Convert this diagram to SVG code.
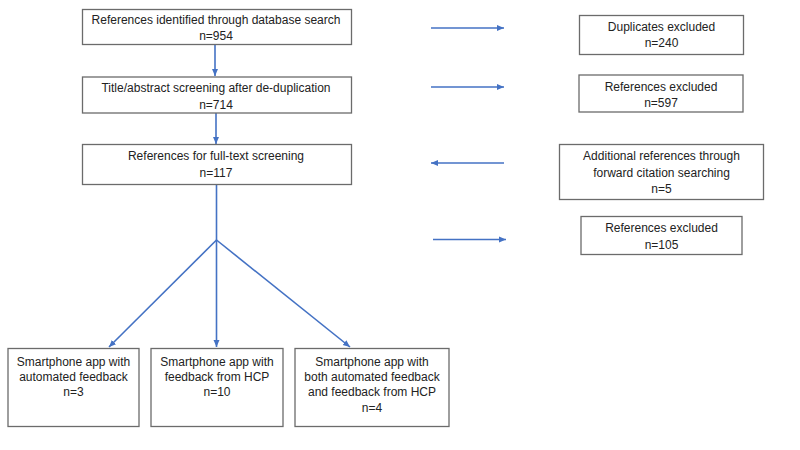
<svg xmlns="http://www.w3.org/2000/svg" width="800" height="450" viewBox="0 0 800 450">
<style>
.box{fill:#fff;stroke:#6b6b6b;stroke-width:1.3}
.t{font-family:"Liberation Sans",Arial,sans-serif;font-size:12px;fill:#222;text-anchor:middle}
.c{stroke:#4472C4;stroke-width:1.6;fill:none}
</style>
<defs>
<marker id="ah" markerUnits="userSpaceOnUse" markerWidth="8" markerHeight="8" viewBox="0 0 8 8" refX="7" refY="4" orient="auto">
<path d="M0,1 L7,4 L0,7 Z" fill="#4472C4"/>
</marker>
</defs>
<rect width="800" height="450" fill="#fff"/>
<g id="connectors">
<line class="c" x1="215" y1="44" x2="215" y2="76" marker-end="url(#ah)"/>
<line class="c" x1="216" y1="113" x2="216" y2="144" marker-end="url(#ah)"/>
<line class="c" x1="216.5" y1="185" x2="216.5" y2="240"/>
<line class="c" x1="216.5" y1="240" x2="109" y2="347" marker-end="url(#ah)"/>
<line class="c" x1="216.5" y1="240" x2="216.5" y2="347" marker-end="url(#ah)"/>
<line class="c" x1="216.5" y1="240" x2="350" y2="347" marker-end="url(#ah)"/>
<line class="c" x1="431" y1="28" x2="504" y2="28" marker-end="url(#ah)"/>
<line class="c" x1="431" y1="87" x2="504" y2="87" marker-end="url(#ah)"/>
<line class="c" x1="504" y1="163" x2="431" y2="163" marker-end="url(#ah)"/>
<line class="c" x1="433" y1="239.5" x2="506" y2="239.5" marker-end="url(#ah)"/>
</g>
<g id="n1"><rect class="box" x="82.5" y="9.5" width="269" height="35"/>
<text class="t" x="216" y="24">References  identified through database search</text>
<text class="t" x="216" y="40">n=954</text></g>
<g id="n2"><rect class="box" x="82.5" y="77" width="269" height="36"/>
<text class="t" x="216" y="92">Title/abstract screening after de-duplication</text>
<text class="t" x="216" y="109">n=714</text></g>
<g id="n3"><rect class="box" x="82.5" y="144.5" width="269" height="40"/>
<text class="t" x="216" y="160">References  for full-text screening</text>
<text class="t" x="216" y="177">n=117</text></g>
<g id="d1"><rect class="box" x="579.5" y="15.5" width="164" height="39"/>
<text class="t" x="661.5" y="31">Duplicates excluded</text>
<text class="t" x="661.5" y="47">n=240</text></g>
<g id="d2"><rect class="box" x="579" y="75" width="164" height="37"/>
<text class="t" x="661" y="91">References  excluded</text>
<text class="t" x="661" y="107">n=597</text></g>
<g id="d3"><rect class="box" x="559.5" y="144.5" width="204" height="55"/>
<text class="t" x="661.5" y="160">Additional references  through</text>
<text class="t" x="661.5" y="176.5">forward citation searching</text>
<text class="t" x="661.5" y="192.5">n=5</text></g>
<g id="d4"><rect class="box" x="581" y="216.5" width="161" height="38"/>
<text class="t" x="661.5" y="232">References  excluded</text>
<text class="t" x="661.5" y="248.5">n=105</text></g>
<g id="b1"><rect class="box" x="8" y="348.5" width="131" height="78"/>
<text class="t" x="73.5" y="366">Smartphone app with</text>
<text class="t" x="73.5" y="381">automated feedback</text>
<text class="t" x="73.5" y="396">n=3</text></g>
<g id="b2"><rect class="box" x="151" y="348.5" width="132" height="78"/>
<text class="t" x="217" y="366">Smartphone app with</text>
<text class="t" x="217" y="381">feedback  from HCP</text>
<text class="t" x="217" y="396">n=10</text></g>
<g id="b3"><rect class="box" x="295" y="348.5" width="154" height="78"/>
<text class="t" x="372" y="366">Smartphone app with</text>
<text class="t" x="372" y="381">both automated feedback</text>
<text class="t" x="372" y="396">and feedback  from HCP</text>
<text class="t" x="372" y="412">n=4</text></g>
</svg>
